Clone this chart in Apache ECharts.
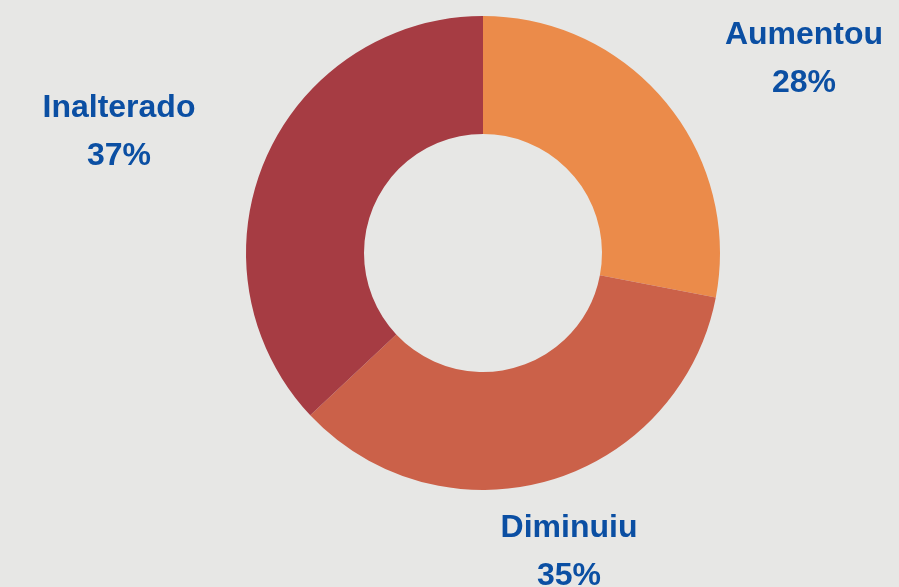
<!DOCTYPE html>
<html>
<head>
<meta charset="utf-8">
<script src="https://cdn.jsdelivr.net/npm/echarts@6/dist/echarts.min.js"></script>
<style>
  html, body { margin: 0; padding: 0; background: #e7e7e5; }
  #chart { width: 899px; height: 587px; }
</style>
</head>
<body>
<div id="chart"></div>
<script>
// categorias e valores (%)
const categorias = ['Aumentou', 'Diminuiu', 'Inalterado'];
const valores = [28, 35, 37];
const cores = ['#eb8b4a', '#cb6149', '#a63c43'];

// posição dos rótulos (centro do bloco de texto)
const posRotulos = [[804, 59], [569, 552], [119, 132]];

const chart = echarts.init(document.getElementById('chart'));

const estiloTexto = {
  fontFamily: 'Liberation Sans', fontWeight: 'bold', fontSize: 32,
  color: '#0b4fa3', lineHeight: 48, align: 'center'
};

const option = {
  backgroundColor: '#e7e7e5',
  series: [{
    type: 'pie',
    center: [483, 253],
    radius: [119, 237],
    startAngle: 90,
    clockwise: true,
    silent: true,
    data: categorias.map((c, i) => ({ name: c, value: valores[i], itemStyle: { color: cores[i] } })),
    label: {
      show: true,
      position: 'outside',
      formatter: p => '{n|' + p.name + '}\n{v|' + p.value + '%}',
      rich: { n: estiloTexto, v: estiloTexto }
    },
    labelLine: { show: false },
    labelLayout: function (params) {
      const p = posRotulos[params.dataIndex];
      return { x: p[0], y: p[1], align: 'center', verticalAlign: 'middle' };
    }
  }]
};

chart.setOption(option);
</script>
</body>
</html>
